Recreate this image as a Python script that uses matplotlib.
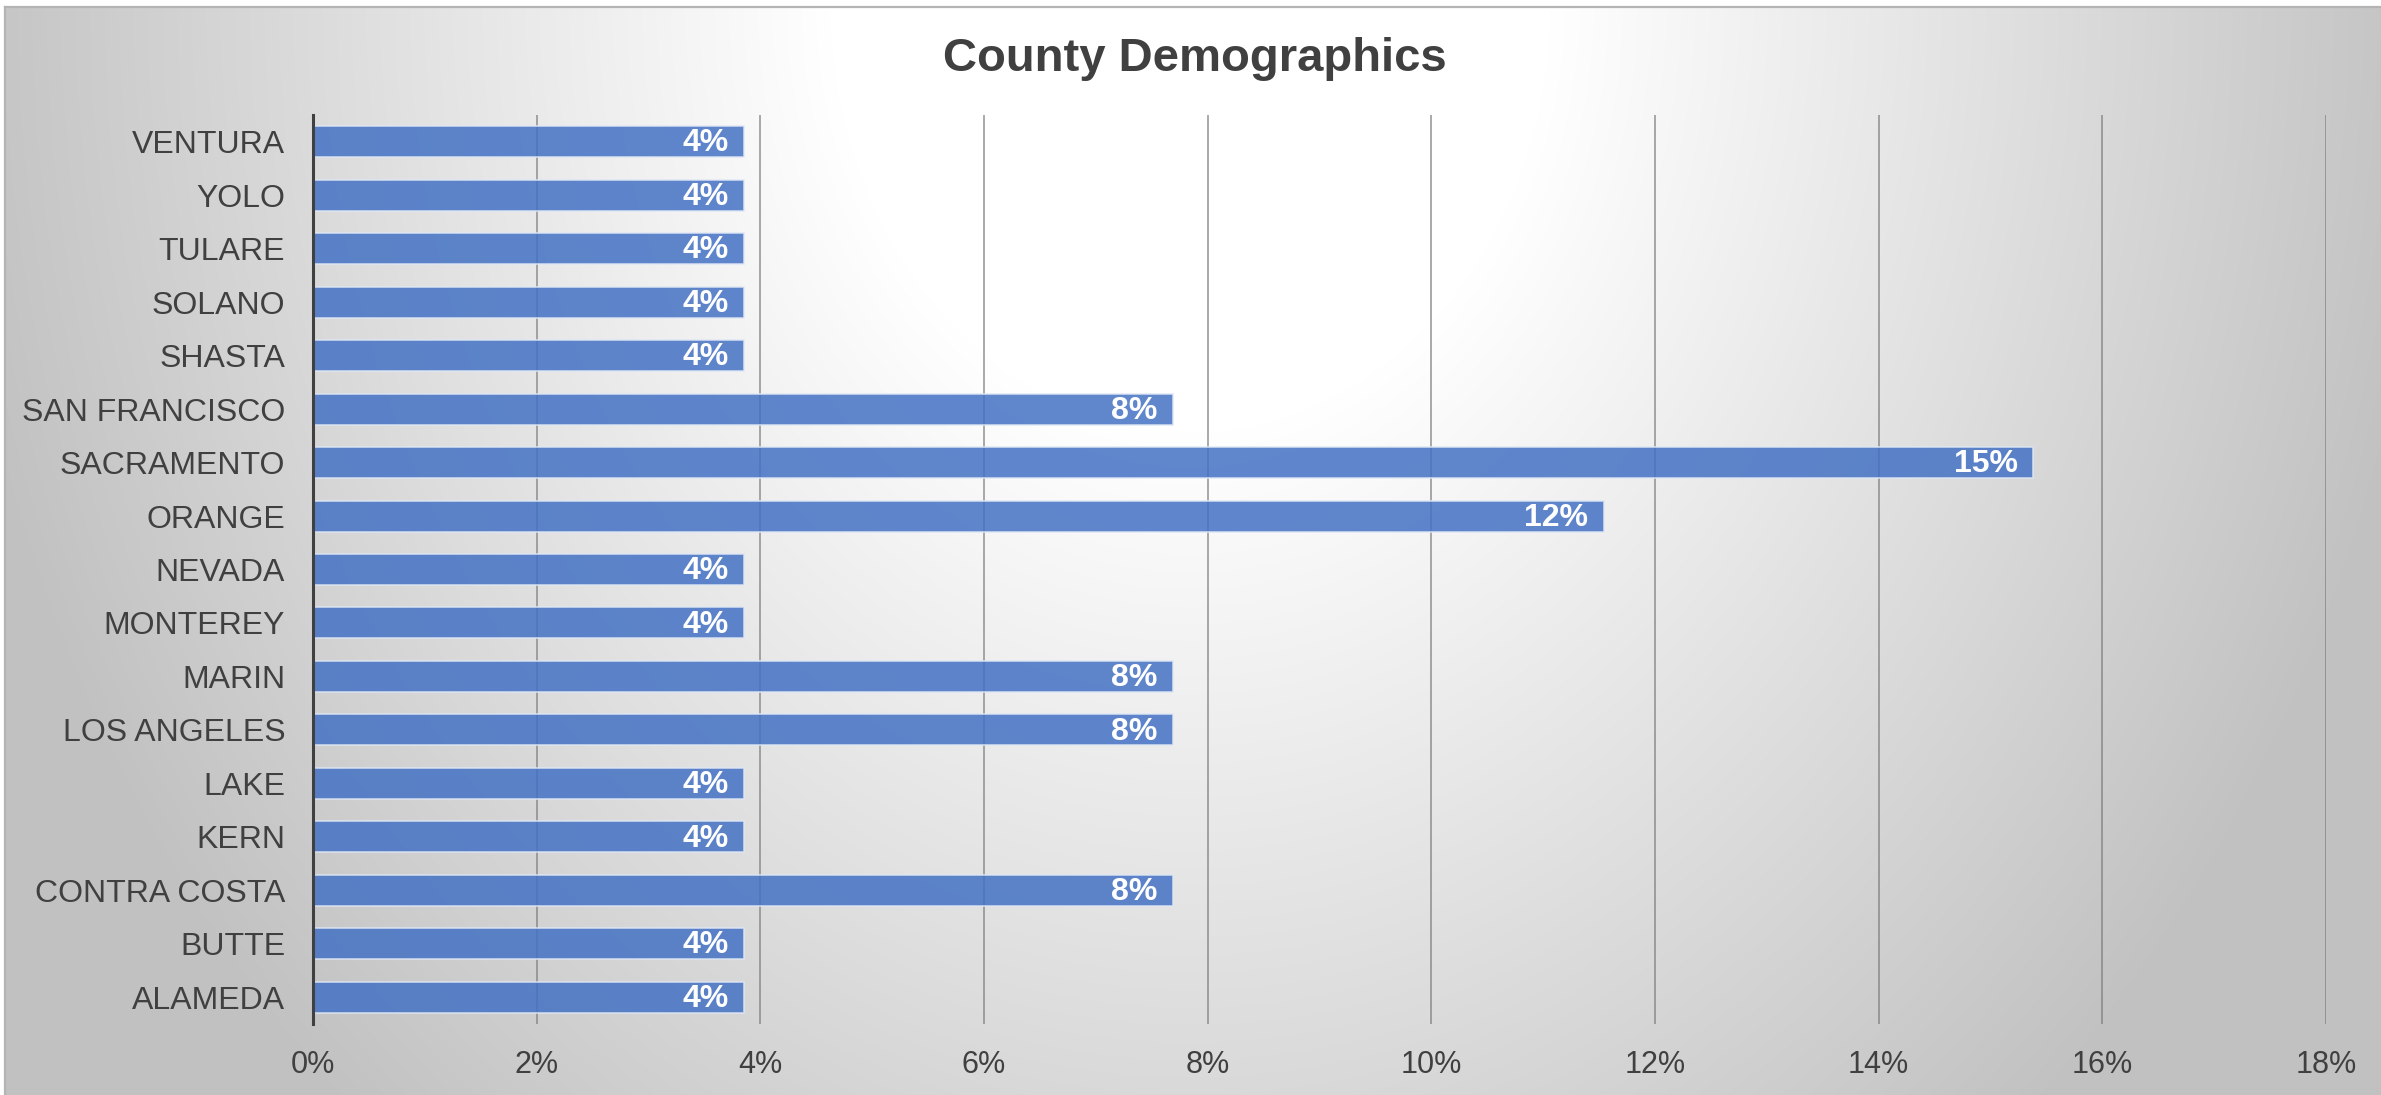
import numpy as np
import matplotlib
matplotlib.use("Agg")
import matplotlib.pyplot as plt
from matplotlib.lines import Line2D
from matplotlib.ticker import PercentFormatter

# County shares, listed bottom to top as they appear on the axis
counties = [
    "ALAMEDA", "BUTTE", "CONTRA COSTA", "KERN", "LAKE", "LOS ANGELES",
    "MARIN", "MONTEREY", "NEVADA", "ORANGE", "SACRAMENTO", "SAN FRANCISCO",
    "SHASTA", "SOLANO", "TULARE", "YOLO", "VENTURA",
]
shares = [
    0.0385, 0.0385, 0.0769, 0.0385, 0.0385, 0.0769,
    0.0769, 0.0385, 0.0385, 0.1154, 0.1538, 0.0769,
    0.0385, 0.0385, 0.0385, 0.0385, 0.0385,
]
x_ticks = [0, 0.02, 0.04, 0.06, 0.08, 0.10, 0.12, 0.14, 0.16, 0.18]
title = "County Demographics"

W, H, DPI = 2381, 1095, 100
TEXT = "#404040"
plt.rcParams["font.family"] = ["Liberation Sans", "DejaVu Sans"]

fig = plt.figure(figsize=(W / DPI, H / DPI), dpi=DPI, facecolor="white")

# Chart-area background: soft radial gradient, brightest near the top centre
bg = fig.add_axes([0, 0, 1, 1], zorder=-10)
bg.set_axis_off()
yy, xx = np.mgrid[0:H, 0:W].astype(float)
cx, cy = 1190.0, 0.0
d = np.hypot(xx - cx, (yy - cy) / 1.2)
t = np.clip((d - 360.0) / 900.0, 0, 1)
gray = (255.0 - 62.0 * t) / 255.0
img = np.dstack([gray, gray, gray])
# outside the chart frame (thin margin at top and left) stays white
img[:7, :, :] = 1.0
img[:, :5, :] = 1.0
bg.imshow(img, extent=[0, W, H, 0], aspect="auto", interpolation="bilinear")
bg.set_xlim(0, W)
bg.set_ylim(H, 0)
frame_kw = dict(color="#b4b4b4", lw=1.6, transform=bg.transData)
bg.add_line(Line2D([5, W], [7, 7], **frame_kw))
bg.add_line(Line2D([5, 5], [7, H], **frame_kw))

# Main bar axes
left, right = 313 / W, 2326 / W
top, bottom = 1 - 115 / H, 1 - 1024 / H
ax = fig.add_axes([left, bottom, right - left, top - bottom])
ax.set_facecolor("none")

ypos = np.arange(len(counties))
bars = ax.barh(ypos, shares, height=0.58, color="#4472C4", alpha=0.85,
               edgecolor="#dfe7f5", linewidth=1.2, zorder=3)

for y, v in zip(ypos, shares):
    ax.annotate(f"{v:.0%}", xy=(v, y), xytext=(-11, -1.2),
                textcoords="offset points", ha="right", va="center",
                color="white", fontsize=23, fontweight="bold", zorder=4)

ax.set_xlim(0, 0.18)
ax.set_ylim(-0.5, len(counties) - 0.5)
ax.set_xticks(x_ticks)
ax.xaxis.set_major_formatter(PercentFormatter(1.0, decimals=0))
ax.set_yticks(ypos)
ax.set_yticklabels(counties)

ax.grid(axis="x", color="#7a7a7a", alpha=0.75, linewidth=1.2, zorder=1)
ax.grid(axis="y", visible=False)
ax.set_axisbelow(True)

for side in ("top", "right", "bottom"):
    ax.spines[side].set_visible(False)
ax.spines["left"].set_color(TEXT)
ax.spines["left"].set_linewidth(2.2)
ax.spines["left"].set_zorder(5)

ax.tick_params(axis="y", length=0, pad=20, labelsize=23, labelcolor=TEXT)
ax.tick_params(axis="x", length=0, pad=19, labelsize=22, labelcolor=TEXT)

fig.text(1195 / W, 1 - 59 / H, title, ha="center", va="center",
         fontsize=34, fontweight="bold", color=TEXT)

fig.savefig("out.png", dpi=DPI, facecolor="white")
